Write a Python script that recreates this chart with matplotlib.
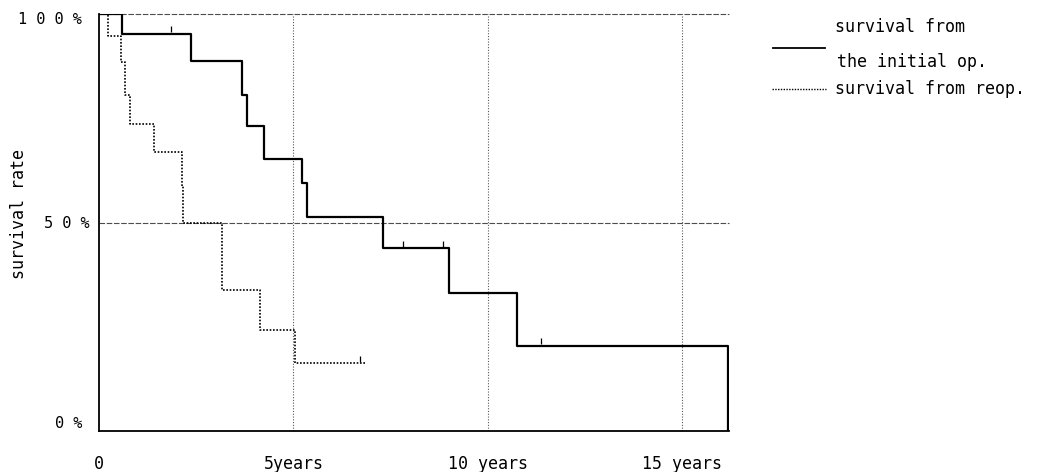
import matplotlib
matplotlib.use("Agg")
import matplotlib.pyplot as plt
import matplotlib.transforms as mtransforms
from matplotlib.lines import Line2D

# survival curves (years, % surviving)
initial_t = [0, 0.59, 2.37, 3.68, 3.80, 4.24, 5.22, 5.35, 7.30, 9.00, 10.75, 16.17]
initial_s = [100, 95.3, 88.8, 80.5, 73.2, 65.3, 59.5, 51.2, 43.8, 33.2, 20.5, 0]
reop_t = [0, 0.23, 0.57, 0.67, 0.80, 1.41, 2.13, 2.16, 3.16, 4.14, 5.04, 6.84]
reop_s = [100, 94.7, 88.6, 80.5, 73.7, 67.0, 58.8, 50.0, 33.7, 24.3, 16.3, 16.3]

# censored observations
initial_cens_t = [1.85, 7.81, 8.84, 11.36]
initial_cens_s = [95.3, 43.8, 43.8, 20.5]
reop_cens_t = [6.71]
reop_cens_s = [16.3]

x_ticks = [0, 5, 10, 15]
x_labels = ["0", "5years", "10 years", "15 years"]
y_ticks = [0, 50, 100]
y_labels = ["0 %", "5 0 %", "1 0 0 %"]

FONT = "DejaVu Sans Mono"
W, H = 1041, 472

fig = plt.figure(figsize=(W / 100, H / 100), dpi=100)
ax = fig.add_axes([99 / W, 1 - 431 / H, 630 / W, 417 / H])
ax.set_xlim(0, 16.2)
ax.set_ylim(0, 100)

# grid
for y in [50, 100]:
    ax.axhline(y, color="0.3", lw=0.8, ls=(0, (5, 1.5)), clip_on=False, zorder=1)
for x in [5, 10, 15]:
    ax.axvline(x, color="0.35", lw=0.8, ls=(0, (1, 1.5)), zorder=1)

ax.step(initial_t, initial_s, where="post", color="black", lw=1.6, zorder=3)
ax.step(reop_t, reop_s, where="post", color="black", lw=1.2, ls=(0, (1, 1)), zorder=3)

# censor marks sit just above the curve
up = ax.transData + mtransforms.ScaledTranslation(0, 3 / 72, fig.dpi_scale_trans)
ax.plot(initial_cens_t, initial_cens_s, ls="none", marker="|", ms=5, mew=0.9,
        color="black", transform=up)
ax.plot(reop_cens_t, reop_cens_s, ls="none", marker="|", ms=5, mew=0.9,
        color="black", transform=up)

for side in ["top", "right"]:
    ax.spines[side].set_visible(False)
for side in ["left", "bottom"]:
    ax.spines[side].set_linewidth(1.3)

ax.set_xticks(x_ticks)
ax.set_xticklabels(x_labels, family=FONT, fontsize=12)
ax.tick_params(axis="x", length=0, pad=17)

ax.set_yticks([])
# pixel nudges (right, up) to match the scan
y_offsets = [(-17, 8), (-9, -1), (-17, -6)]
for yv, lab, (dx, dy) in zip(y_ticks, y_labels, y_offsets):
    tr = mtransforms.offset_copy(ax.get_yaxis_transform(), fig=fig, x=dx, y=dy, units="dots")
    ax.text(0, yv, lab, transform=tr, ha="right", va="center", family=FONT, fontsize=11)

fig.text(19 / W, 1 - 214 / H, "survival rate", rotation=90, ha="center", va="center",
         family=FONT, fontsize=12)

# legend drawn by hand, outside the plot
fig.add_artist(Line2D([773 / W, 825 / W], [1 - 48 / H, 1 - 48 / H], color="black", lw=1.3))
fig.text(835 / W, 1 - 27 / H, "survival from", ha="left", va="center", family=FONT, fontsize=12)
fig.text(837 / W, 1 - 62 / H, "the initial op.", ha="left", va="center", family=FONT, fontsize=12)
fig.add_artist(Line2D([772 / W, 826 / W], [1 - 89 / H, 1 - 89 / H], color="black", lw=1.0,
                      ls=(0, (1, 1))))
fig.text(835 / W, 1 - 89 / H, "survival from reop.", ha="left", va="center", family=FONT, fontsize=12)

fig.savefig("out.png", dpi=100)
